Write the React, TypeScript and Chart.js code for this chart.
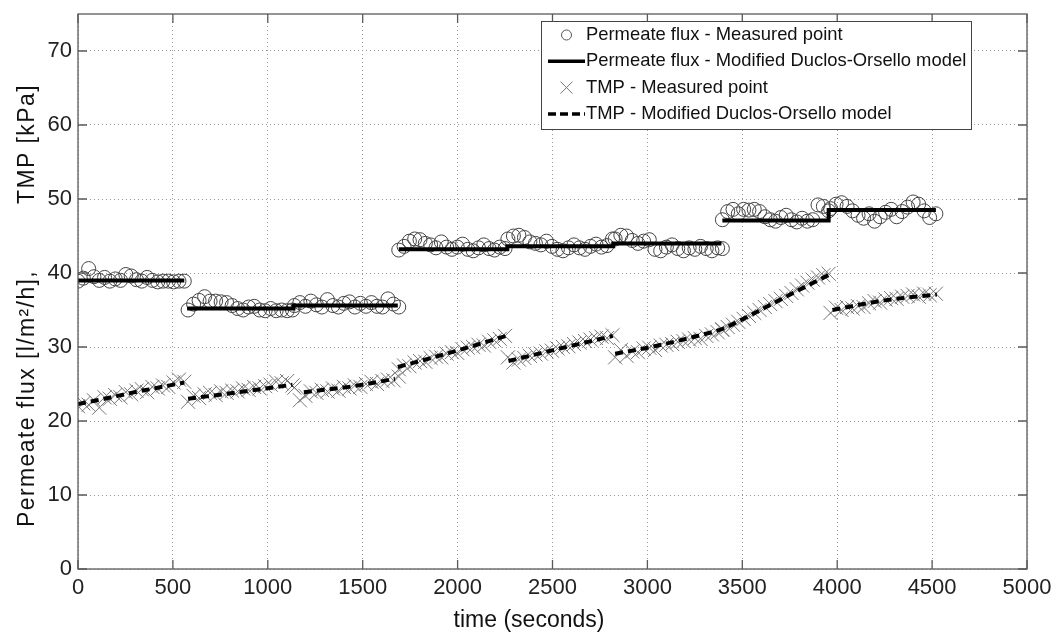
import React, { useEffect, useRef } from "react";
import { Chart, registerables } from "chart.js";

Chart.register(...registerables);

// ---- axis ticks ----
const xTicks = [0, 500, 1000, 1500, 2000, 2500, 3000, 3500, 4000, 4500, 5000];
const yTicks = [0, 10, 20, 30, 40, 50, 60, 70];

// ---- time stamps (s) of each run ----
const t1 = [0, 28, 56, 84, 112, 140, 168, 196, 224, 252, 280, 308, 336, 364, 392, 420, 448, 476, 504, 532, 560];
const t2 = [580, 609, 638, 667, 696, 725, 754, 783, 812, 841, 870, 899, 928, 957, 986, 1015, 1044, 1073, 1102, 1130];
const t3 = [1140, 1169, 1198, 1227, 1256, 1285, 1314, 1343, 1372, 1401, 1430, 1459, 1488, 1517, 1546, 1575, 1604, 1633, 1662, 1690];
const t4 = [1690, 1718, 1746, 1774, 1802, 1830, 1858, 1886, 1914, 1942, 1970, 1998, 2026, 2054, 2082, 2110, 2138, 2166, 2194, 2222, 2250];
const t5 = [2265, 2294, 2323, 2352, 2381, 2410, 2439, 2468, 2497, 2526, 2555, 2584, 2613, 2642, 2671, 2700, 2729, 2758, 2787, 2816];
const t6 = [2830, 2860, 2890, 2920, 2950, 2980, 3010, 3040, 3070, 3100, 3130, 3160, 3190, 3220, 3250, 3280, 3310, 3340, 3370, 3395];
const t7 = [3395, 3423, 3451, 3479, 3507, 3535, 3563, 3591, 3619, 3647, 3675, 3703, 3731, 3759, 3787, 3815, 3843, 3871, 3899, 3927, 3955];
const t8 = [3965, 3994, 4023, 4052, 4081, 4110, 4139, 4168, 4197, 4226, 4255, 4284, 4313, 4342, 4371, 4400, 4429, 4458, 4487, 4520];

// ---- permeate flux measured [l/m2/h] ----
const flux1 = [38.9, 39.3, 40.6, 39.5, 39.0, 39.4, 38.9, 39.2, 39.0, 39.8, 39.6, 39.1, 38.9, 39.4, 39.0, 38.8, 38.9, 38.9, 38.8, 38.9, 38.9];
const flux2 = [35.0, 35.8, 36.3, 36.8, 36.2, 36.2, 36.1, 36.0, 35.6, 35.2, 35.0, 35.4, 35.5, 35.0, 34.9, 35.2, 34.9, 35.0, 34.9, 35.0];
const flux3 = [35.6, 36.0, 35.5, 36.2, 35.7, 35.4, 36.4, 35.6, 35.4, 35.9, 36.1, 35.4, 35.9, 35.5, 36.0, 35.5, 35.4, 36.5, 35.8, 35.4];
const flux4 = [43.1, 43.6, 44.3, 44.6, 44.5, 44.0, 43.8, 43.4, 44.2, 43.5, 43.2, 43.5, 43.9, 43.2, 43.0, 43.4, 43.8, 43.3, 43.1, 43.5, 43.3];
const flux5 = [44.6, 45.0, 45.1, 44.8, 44.2, 44.0, 43.8, 44.3, 43.6, 43.2, 43.0, 43.4, 43.8, 43.4, 43.2, 43.6, 43.9, 43.5, 43.7, 44.6];
const flux6 = [44.6, 45.1, 45.0, 44.4, 44.0, 44.3, 44.5, 43.2, 43.0, 43.5, 43.8, 43.3, 43.0, 43.4, 43.2, 43.6, 43.3, 43.0, 43.4, 43.3];
const flux7 = [47.2, 48.3, 48.6, 48.0, 48.6, 48.5, 48.6, 48.3, 47.6, 47.2, 47.0, 47.5, 47.8, 47.2, 46.9, 47.4, 47.0, 47.2, 49.2, 49.0, 48.4];
const flux8 = [48.7, 49.3, 49.5, 49.0, 48.4, 47.8, 47.4, 48.0, 47.0, 47.6, 48.2, 48.6, 47.6, 48.3, 48.9, 49.6, 49.3, 48.4, 47.5, 48.0];

// ---- TMP measured [kPa] ----
const tmp1 = [22.0, 22.4, 22.2, 22.8, 21.8, 23.2, 23.0, 23.5, 23.2, 23.9, 23.6, 24.1, 24.3, 23.9, 24.6, 24.4, 24.8, 24.6, 25.2, 25.6, 25.3];
const tmp2 = [22.6, 23.4, 23.1, 23.6, 23.8, 23.5, 24.0, 23.8, 24.1, 24.0, 24.4, 24.2, 24.6, 24.4, 24.7, 24.9, 25.3, 25.1, 25.4, 24.8];
const tmp3 = [24.5, 22.8, 23.4, 24.0, 23.8, 24.2, 24.0, 24.4, 24.1, 24.6, 24.4, 24.8, 24.6, 25.0, 25.3, 25.0, 25.4, 25.6, 25.5, 26.0];
const tmp4 = [27.0, 27.5, 27.4, 27.9, 28.1, 28.0, 28.5, 28.7, 28.6, 29.1, 29.3, 29.2, 29.7, 29.9, 30.0, 30.3, 30.2, 30.7, 30.9, 31.1, 31.5];
const tmp5 = [28.6, 27.9, 28.3, 28.5, 28.8, 29.0, 29.1, 29.4, 29.5, 29.8, 30.0, 30.1, 30.4, 30.6, 30.8, 31.0, 31.2, 31.4, 31.2, 31.6];
const tmp6a = [28.6, 29.6, 28.8, 29.4, 29.3, 29.8, 29.9, 29.6, 30.2, 30.3, 30.4, 30.7, 30.8, 31.0, 31.2, 31.1, 31.5, 31.7, 32.0, 32.3];
const tmp6b = [32.4, 32.7, 33.0, 33.4, 33.8, 34.2, 34.6, 35.0, 35.4, 35.8, 36.2, 36.5, 36.9, 37.3, 37.8, 38.3, 38.7, 39.1, 39.4, 39.7, 39.9];
const tmp7 = [34.6, 35.3, 35.0, 35.4, 35.2, 35.5, 35.4, 35.9, 36.2, 36.0, 36.4, 36.6, 36.5, 36.8, 36.9, 37.1, 36.8, 37.2, 37.0, 37.2];

// ---- model curves (null = break between runs) ----
const fluxModelX = [0, 560, 560, 575, 1135, 1135, 1685, 1685, 1690, 2262, 2262, 2820, 2820, 3390, 3390, 3395, 3955, 3955, 4520];
const fluxModelY = [39.0, 39.0, null, 35.2, 35.2, 35.6, 35.6, null, 43.2, 43.2, 43.6, 43.6, 44.0, 44.0, null, 47.1, 47.1, 48.5, 48.5];
const tmpModelX = [0, 140, 280, 420, 560, 560, 580, 850, 1130, 1130, 1190, 1450, 1670, 1670, 1685, 1970, 2255, 2255, 2268, 2540, 2818, 2818, 2830, 3000, 3280, 3400, 3490, 3730, 3960, 3960, 3975, 4250, 4525];
const tmpModelY = [22.3, 23.0, 23.8, 24.5, 25.2, null, 23.0, 23.9, 24.9, null, 23.9, 24.7, 25.7, null, 27.3, 29.3, 31.5, null, 28.1, 29.8, 31.5, null, 29.1, 29.9, 31.6, 32.5, 33.6, 36.8, 39.8, null, 35.0, 36.3, 37.1];

const labels = [
  "Permeate flux - Measured point",
  "Permeate flux - Modified Duclos-Orsello model",
  "TMP - Measured point",
  "TMP - Modified Duclos-Orsello model",
];
const yTitleParts = ["Permeate flux [l/m\u00B2/h],", "TMP [kPa]"];
const xTitle = "time (seconds)";

const FONT = "'Liberation Sans', Arial, Helvetica, sans-serif";

const zip = (xs: number[], ys: (number | null)[]) => xs.map((x, i) => ({ x, y: ys[i] }));
const concat = (...pairs: [number[], number[]][]) => pairs.flatMap(([t, v]) => zip(t, v));

const boxPlugin = {
  id: "matlabBox",
  afterDatasetsDraw(chart: any) {
    const { ctx, chartArea: a, scales } = chart;
    const xs = scales.x;
    const ys = scales.y;
    ctx.save();
    ctx.strokeStyle = "#5a5a5a";
    ctx.lineWidth = 1.3;
    ctx.strokeRect(a.left, a.top, a.right - a.left, a.bottom - a.top);
    const tl = 9;
    ctx.beginPath();
    xTicks.forEach((v) => {
      const px = xs.getPixelForValue(v);
      ctx.moveTo(px, a.bottom);
      ctx.lineTo(px, a.bottom - tl);
      ctx.moveTo(px, a.top);
      ctx.lineTo(px, a.top + tl);
    });
    yTicks.forEach((v) => {
      const py = ys.getPixelForValue(v);
      ctx.moveTo(a.left, py);
      ctx.lineTo(a.left + tl, py);
      ctx.moveTo(a.right, py);
      ctx.lineTo(a.right - tl, py);
    });
    ctx.stroke();
    ctx.restore();
  },
  afterDraw(chart: any) {
    const { ctx, chartArea: a } = chart;
    // y-axis title (two parts, rotated)
    ctx.save();
    ctx.translate(28, 0);
    ctx.rotate(-Math.PI / 2);
    ctx.font = `23px ${FONT}`;
    (ctx as any).letterSpacing = "1.4px";
    ctx.fillStyle = "#111";
    ctx.textBaseline = "middle";
    ctx.textAlign = "left";
    ctx.fillText(yTitleParts[0], -527, 0);
    ctx.fillText(yTitleParts[1], -204, 0);
    ctx.restore();

    // x-axis title
    ctx.save();
    ctx.font = `23px ${FONT}`;
    ctx.fillStyle = "#111";
    ctx.textAlign = "center";
    ctx.textBaseline = "middle";
    ctx.fillText(xTitle, 529, 621);
    ctx.restore();

    // legend
    const w = 430;
    const h = 108;
    const right = a.right - 56;
    const left = right - w;
    const top = a.top + 7;
    ctx.save();
    ctx.fillStyle = "#ffffff";
    ctx.fillRect(left, top, w, h);
    ctx.strokeStyle = "#444";
    ctx.lineWidth = 1;
    ctx.strokeRect(left + 0.5, top + 0.5, w, h);
    ctx.font = `18.4px ${FONT}`;
    ctx.textBaseline = "middle";
    ctx.fillStyle = "#111";
    const rowY = (i: number) => top + 14 + i * 26.3;
    const sx0 = left + 7;
    const sx1 = left + 44;
    const sc = (sx0 + sx1) / 2;
    ctx.strokeStyle = "#555";
    ctx.lineWidth = 1;
    ctx.beginPath();
    ctx.arc(sc, rowY(0), 5, 0, Math.PI * 2);
    ctx.stroke();
    ctx.strokeStyle = "#000";
    ctx.lineWidth = 3.5;
    ctx.beginPath();
    ctx.moveTo(sx0, rowY(1));
    ctx.lineTo(sx1, rowY(1));
    ctx.stroke();
    ctx.strokeStyle = "#777";
    ctx.lineWidth = 1;
    ctx.beginPath();
    ctx.moveTo(sc - 6, rowY(2) - 6);
    ctx.lineTo(sc + 6, rowY(2) + 6);
    ctx.moveTo(sc - 6, rowY(2) + 6);
    ctx.lineTo(sc + 6, rowY(2) - 6);
    ctx.stroke();
    ctx.strokeStyle = "#000";
    ctx.lineWidth = 3.5;
    ctx.setLineDash([8, 4]);
    ctx.beginPath();
    ctx.moveTo(sx0, rowY(3));
    ctx.lineTo(sx1, rowY(3));
    ctx.stroke();
    ctx.setLineDash([]);
    labels.forEach((l, i) => ctx.fillText(l, left + 45, rowY(i)));
    ctx.restore();
  },
};

export default function App() {
  const ref = useRef<HTMLCanvasElement | null>(null);

  useEffect(() => {
    if (!ref.current) return;
    Chart.defaults.font.family = FONT;
    const chart = new Chart(ref.current, {
      type: "line",
      data: {
        datasets: [
          {
            label: labels[1],
            data: zip(fluxModelX, fluxModelY),
            borderColor: "#000",
            borderWidth: 4,
            pointRadius: 0,
            spanGaps: false,
            order: 0,
          },
          {
            label: labels[3],
            data: zip(tmpModelX, tmpModelY),
            borderColor: "#000",
            borderWidth: 4,
            borderDash: [8, 5],
            pointRadius: 0,
            spanGaps: false,
            cubicInterpolationMode: "monotone",
            order: 0,
          },
          {
            label: labels[0],
            data: concat([t1, flux1], [t2, flux2], [t3, flux3], [t4, flux4], [t5, flux5], [t6, flux6], [t7, flux7], [t8, flux8]),
            showLine: false,
            pointStyle: "circle",
            pointRadius: 7,
            pointBorderWidth: 1,
            pointBorderColor: "#444",
            pointBackgroundColor: "rgba(0,0,0,0)",
            order: 1,
          },
          {
            label: labels[2],
            data: concat([t1, tmp1], [t2, tmp2], [t3, tmp3], [t4, tmp4], [t5, tmp5], [t6, tmp6a], [t7, tmp6b], [t8, tmp7]),
            showLine: false,
            pointStyle: "crossRot",
            pointRadius: 10,
            pointBorderWidth: 1,
            pointBorderColor: "#777",
            order: 1,
          },
        ],
      },
      options: {
        animation: false,
        responsive: false,
        devicePixelRatio: 1,
        layout: { padding: { top: 14, right: 29, left: 0, bottom: 0 } },
        plugins: { legend: { display: false }, tooltip: { enabled: false } },
        scales: {
          x: {
            type: "linear",
            min: 0,
            max: 5000,
            afterBuildTicks: (s: any) => {
              s.ticks = xTicks.map((v) => ({ value: v }));
            },
            afterFit: (s: any) => {
              s.height = 67;
              s.paddingLeft = 0;
              s.paddingRight = 0;
            },
            ticks: {
              font: { size: 22 },
              color: "#222",
              padding: 6,
              maxRotation: 0,
              autoSkip: false,
              callback: (v: any) => String(v),
            },
            grid: { color: "#9a9a9a", lineWidth: 1, drawTicks: false },
            border: { display: false, dash: [1, 3] },
          },
          y: {
            type: "linear",
            min: 0,
            max: 75,
            afterBuildTicks: (s: any) => {
              s.ticks = yTicks.map((v) => ({ value: v }));
            },
            afterFit: (s: any) => {
              s.width = 78;
              s.paddingTop = 0;
              s.paddingBottom = 0;
            },
            ticks: {
              font: { size: 22 },
              color: "#222",
              padding: 6,
              autoSkip: false,
              callback: (v: any) => String(v),
            },
            grid: { color: "#9a9a9a", lineWidth: 1, drawTicks: false },
            border: { display: false, dash: [1, 3] },
          },
        },
      },
      plugins: [boxPlugin],
    } as any);
    return () => chart.destroy();
  }, []);

  return (
    <div style={{ position: "fixed", left: 0, top: 0, width: 1056, height: 636, background: "#fff" }}>
      <canvas ref={ref} width={1056} height={636} style={{ display: "block" }} />
    </div>
  );
}
